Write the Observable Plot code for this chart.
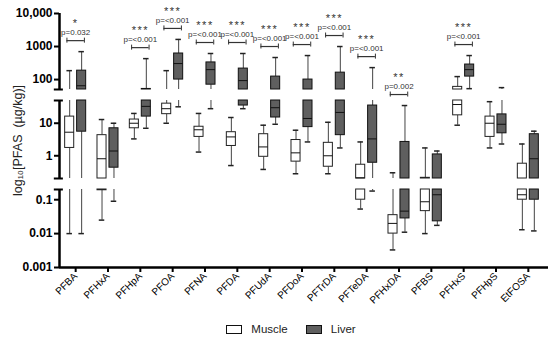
<!DOCTYPE html>
<html><head><meta charset="utf-8">
<script src="https://cdn.jsdelivr.net/npm/d3@7"></script>
<script src="https://cdn.jsdelivr.net/npm/@observablehq/plot@0.6"></script>
<style>
body{margin:0;background:#fff;font-family:"Liberation Sans",Arial,sans-serif;}
#wrap{position:relative;width:550px;height:340px;overflow:hidden;}
#chart svg{display:block;}
.stars text{letter-spacing:1.5px;}
#legend{position:absolute;left:0;top:323px;width:550px;box-sizing:border-box;padding-left:32px;display:flex;justify-content:center;align-items:center;font-size:11.5px;color:#222;}
#legend .sw{display:inline-block;width:14px;height:7px;border:1px solid #111;margin-right:9px;}
#legend .lab{margin-right:18px;}
#legend .lab:last-child{margin-right:0;}
</style></head><body>
<div id="wrap"><div id="chart"></div><div id="legend"></div></div>
<script>
const categories = ["PFBA","PFHxA","PFHpA","PFOA","PFNA","PFDA","PFUdA","PFDoA","PFTrDA","PFTeDA","PFHxDA","PFBS","PFHxS","PFHpS","EtFOSA"];
const groups = ["Muscle", "Liver"];

// Muscle box statistics (µg/kg)
const muscleMin = [0.01, 0.025, 3.3, 10, 1.3, 0.5, 0.38, 0.28, 0.28, 0.053, 0.0033, 0.01, 8.7, 1.74, 0.013];
const muscleQ1  = [1.74, 0.19, 7, 19, 3.8, 2.0, 0.93, 0.66, 0.46, 0.1, 0.01, 0.046, 17.5, 3.8, 0.1];
const muscleMed = [5.3, 0.81, 10, 28, 6.3, 3.8, 1.87, 1.23, 1.0, 0.21, 0.02, 0.087, 37.6, 10, 0.14];
const muscleQ3  = [16, 4.3, 13, 40, 7.8, 5.3, 4.6, 3.05, 2.5, 0.53, 0.035, 0.21, 60, 16, 0.57];
const muscleMax = [186, 13, 20, 186, 20, 15, 8.7, 6.1, 10.7, 2.66, 0.3, 1.74, 123, 46, 2.3];

// Liver box statistics (µg/kg)
const liverMin = [0.01, 0.09, 7, 32, 28, 28, 9.3, 2.66, 1.74, 0.18, 0.011, 0.0175, 53, 2.3, 0.012];
const liverQ1  = [5.5, 0.43, 16, 100, 70, 35, 15, 7.6, 4.3, 0.61, 0.028, 0.023, 123, 4.9, 0.1];
const liverMed = [65, 1.4, 33, 305, 200, 93, 30, 14, 21.5, 3.3, 0.046, 0.14, 200, 9.3, 0.81];
const liverQ3  = [186, 7, 52, 615, 330, 215, 123, 100, 162, 35, 2.66, 1.1, 285, 18.7, 4.6];
const liverMax = [700, 10, 430, 1640, 615, 615, 465, 533, 1000, 230, 35, 1.4, 533, 57, 5.7];

// Significance annotations
const sigCats  = ["PFBA","PFHpA","PFOA","PFNA","PFDA","PFUdA","PFDoA","PFTrDA","PFTeDA","PFHxDA","PFHxS"];
const sigStars = ["*","***","***","***","***","***","***","***","***","**","***"];
const sigP     = ["p=0.032","p=<0.001","p=<0.001","p=<0.001","p=<0.001","p=<0.001","p=<0.001","p=<0.001","p=<0.001","p=0.002","p=<0.001"];

// Y axis ticks
const yTicks = [10000, 1000, 100, 10, 1, 0.1, 0.01, 0.001];
const yTickLabels = ["10,000", "1000", "100", "10", "1", "0.1", "0.01", "0.001"];
const yLabel = "log\u2081\u2080[PFAS  (\u00b5g/kg)]";

// axis breaks (scale configuration)
const segments = [[0.001, 0.2], [0.2001, 50], [50.01, 10000]];

const stats = {
  Muscle: [muscleMin, muscleQ1, muscleMed, muscleQ3, muscleMax],
  Liver: [liverMin, liverQ1, liverMed, liverQ3, liverMax]
};
const rows = [];
categories.forEach((c, i) => groups.forEach(g => {
  const [mn, q1, md, q3, mx] = stats[g];
  rows.push({cat: c, i, group: g, min: mn[i], q1: q1[i], med: md[i], q3: q3[i], max: mx[i]});
}));

function split(lo, hi) {
  return segments.map(([a, b]) => [Math.max(lo, a), Math.min(hi, b)]).filter(([a, b]) => a < b);
}
const boxParts = rows.flatMap(r => split(r.q1, r.q3).map(([a, b]) => ({...r, y1: a, y2: b})));
const whiskerParts = rows.flatMap(r => [...split(r.min, r.q1), ...split(r.q3, r.max)].map(([a, b]) => ({...r, y1: a, y2: b})));

const off = 0.185, half = 0.14, capHalf = 0.085, brHalf = 0.27;
const xc = d => d.i + (d.group === "Muscle" ? -off : off);

const sig = sigCats.map((c, k) => {
  const i = categories.indexOf(c);
  return {i, top: Math.max(muscleMax[i], liverMax[i]), stars: sigStars[k], p: sigP[k]};
});
const sigEnds = sig.flatMap(d => [{...d, x: d.i - brHalf}, {...d, x: d.i + brHalf}]);

const capVals = segments.flat().filter(v => v !== 0.001 && v !== 10000);

const chart = Plot.plot({
  width: 550, height: 305,
  marginLeft: 59, marginRight: 6, marginTop: 13, marginBottom: 38,
  style: {fontFamily: "Liberation Sans, Arial, sans-serif", fontSize: "10px", color: "#000", background: "white", overflow: "visible"},
  x: {type: "linear", domain: [-0.5, categories.length - 0.5], axis: null},
  y: {type: "log", domain: [0.001, 0.2, 0.2001, 50, 50.01, 10000], range: [267, 189, 178, 100, 89, 13], axis: null},
  marks: [
    // whiskers
    Plot.ruleX(whiskerParts, {x: xc, y1: "y1", y2: "y2", stroke: "#444", strokeWidth: 1}),
    Plot.ruleY(rows, {x1: d => xc(d) - capHalf, x2: d => xc(d) + capHalf, y: "min", stroke: "#222", strokeWidth: 1.5}),
    Plot.ruleY(rows, {x1: d => xc(d) - capHalf, x2: d => xc(d) + capHalf, y: "max", stroke: "#222", strokeWidth: 1.5}),
    // boxes
    Plot.rect(boxParts.filter(d => d.group === "Muscle"), {x1: d => xc(d) - half, x2: d => xc(d) + half, y1: "y1", y2: "y2", fill: "white", stroke: "#222", strokeWidth: 1}),
    Plot.rect(boxParts.filter(d => d.group === "Liver"), {x1: d => xc(d) - half, x2: d => xc(d) + half, y1: "y1", y2: "y2", fill: "#5f5f5f", stroke: "#111", strokeWidth: 1}),
    Plot.ruleY(rows, {x1: d => xc(d) - half, x2: d => xc(d) + half, y: "med", stroke: "#111", strokeWidth: 1}),
    // significance
    Plot.ruleY(sig, {x1: d => d.i - brHalf, x2: d => d.i + brHalf, y: "top", dy: -11, stroke: "#333", strokeWidth: 1.2}),
    Plot.ruleX(sigEnds, {x: "x", y1: "top", y2: "top", dy: -11, insetTop: -2.5, insetBottom: -2.5, stroke: "#333", strokeWidth: 1}),
    Plot.text(sig, {x: "i", y: "top", dy: -19, text: "p", fontSize: 8, fill: "#333"}),
    Plot.text(sig, {x: "i", y: "top", dy: -28, text: "stars", fontSize: 11, fill: "#333", className: "stars"}),
    // axes
    Plot.ruleX(segments, {x: -0.5, y1: d => d[0], y2: d => d[1], stroke: "#000", strokeWidth: 2.5}),
    Plot.ruleY(capVals, {x1: -0.5 - 0.16, x2: -0.5 + 0.12, stroke: "#000", strokeWidth: 2}),
    Plot.ruleY([0.001], {stroke: "#000", strokeWidth: 2.5, insetRight: -4}),
    Plot.axisY({ticks: yTicks, tickFormat: d => yTickLabels[yTicks.indexOf(d)], tickSize: 5, tickPadding: 2, strokeWidth: 2, fontWeight: "bold", fontSize: 12, label: null}),
    Plot.axisX({ticks: d3.range(categories.length), tickFormat: i => categories[i], tickRotate: -45, tickSize: 5, tickPadding: 2, strokeWidth: 2, fontSize: 10, label: null}),
    Plot.text([yLabel], {frameAnchor: "left", textAnchor: "middle", dx: -42, rotate: -90, fontSize: 12.5, fill: "#222"})
  ]
});
document.getElementById("chart").appendChild(chart);

const legend = document.getElementById("legend");
const fills = {Muscle: "#ffffff", Liver: "#5f5f5f"};
groups.forEach(g => {
  const sw = document.createElement("span");
  sw.className = "sw"; sw.style.background = fills[g];
  const lab = document.createElement("span");
  lab.className = "lab"; lab.textContent = g;
  legend.appendChild(sw); legend.appendChild(lab);
});
</script>
</body></html>
